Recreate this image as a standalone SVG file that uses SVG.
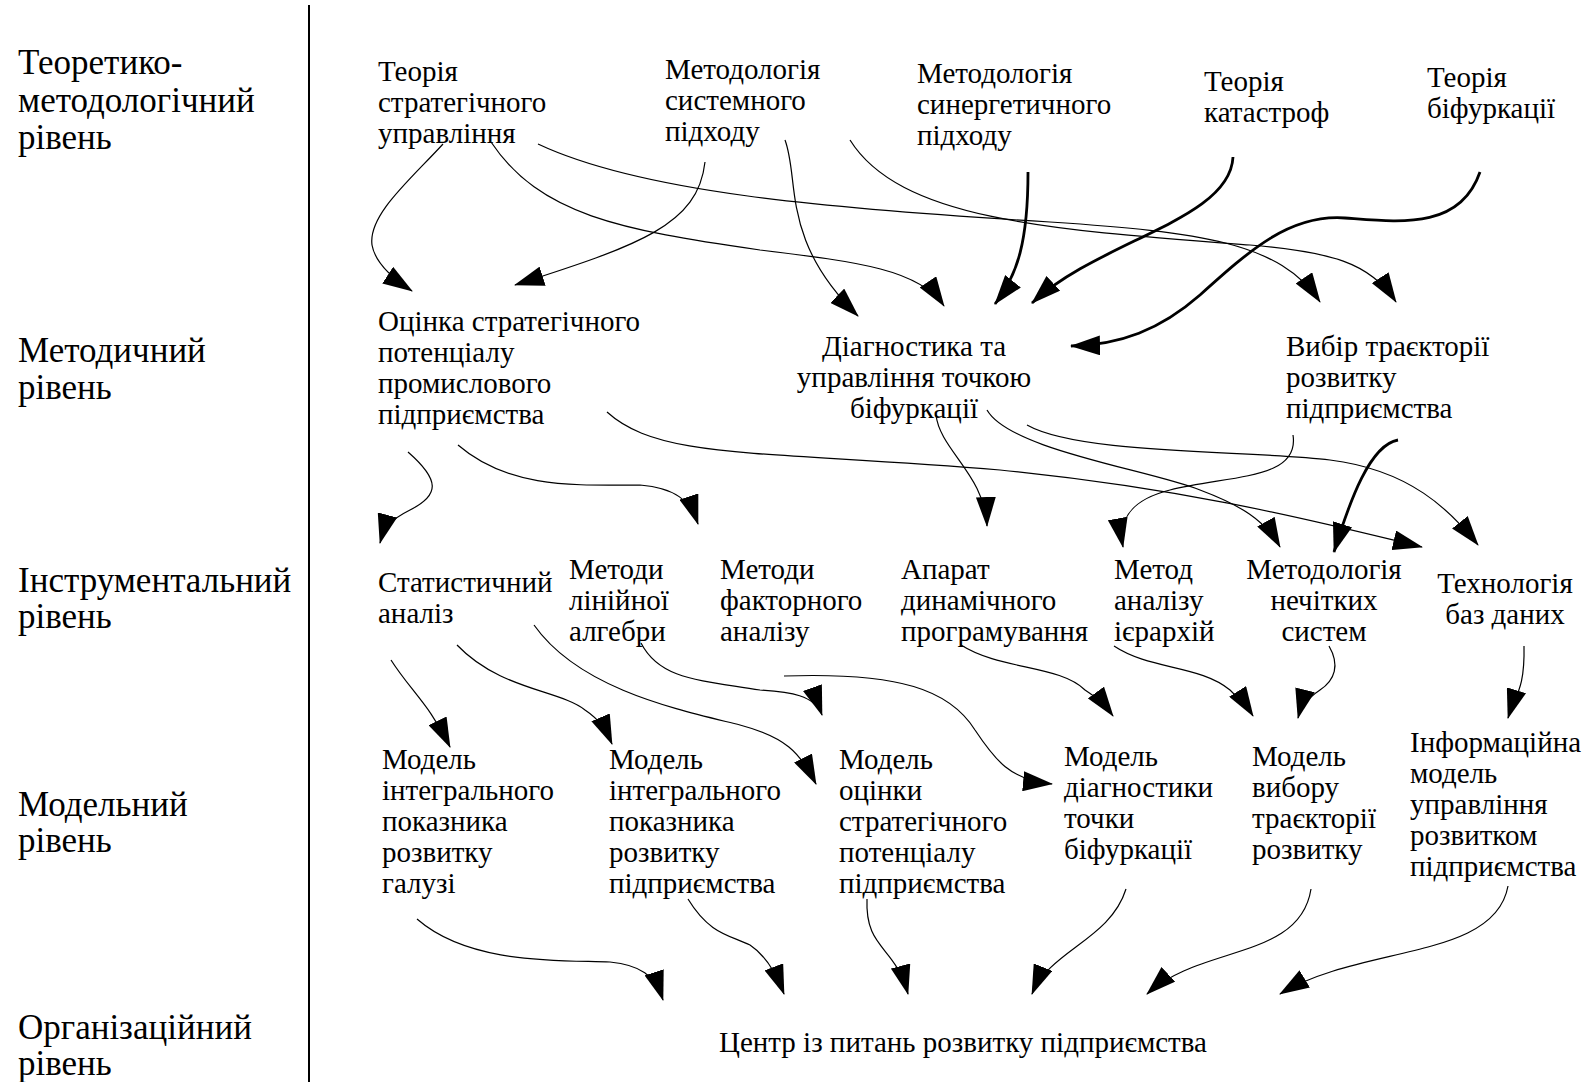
<svg xmlns="http://www.w3.org/2000/svg" width="1587" height="1082" viewBox="0 0 1587 1082">
<style>
text{font-family:"Liberation Serif","Times New Roman",serif;fill:#000}
.lvl{font-size:35px}
.n{font-size:29px}
.c{text-anchor:middle}
.e{fill:none;stroke:#000;stroke-width:1.2}
.t{fill:none;stroke:#000;stroke-width:2.8}
</style>
<defs>
<marker id="ah" viewBox="0 0 30 20" refX="29" refY="10" markerWidth="30" markerHeight="20" orient="auto" markerUnits="userSpaceOnUse"><path d="M0,0 L30,10 L0,20 z" fill="#000"/></marker>
</defs>
<rect width="1587" height="1082" fill="#fff"/>
<line x1="309" y1="5" x2="309" y2="1082" stroke="#000" stroke-width="2"/>
<g id="levels">
<text class="lvl" x="18" y="74">Теоретико-<tspan x="18" y="112">методологічний</tspan><tspan x="18" y="149">рівень</tspan></text>
<text class="lvl" x="18" y="362">Методичний<tspan x="18" y="399">рівень</tspan></text>
<text class="lvl" x="18" y="592">Інструментальний<tspan x="18" y="628">рівень</tspan></text>
<text class="lvl" x="18" y="816">Модельний<tspan x="18" y="852">рівень</tspan></text>
<text class="lvl" x="18" y="1039">Організаційний<tspan x="18" y="1075">рівень</tspan></text>
</g>
<g id="n_tsu"><text class="n" x="378" y="81">Теорія<tspan x="378" y="112">стратегічного</tspan><tspan x="378" y="143">управління</tspan></text></g>
<g id="n_msp"><text class="n" x="665" y="79">Методологія<tspan x="665" y="110">системного</tspan><tspan x="665" y="141">підходу</tspan></text></g>
<g id="n_msyn"><text class="n" x="917" y="83">Методологія<tspan x="917" y="114">синергетичного</tspan><tspan x="917" y="145">підходу</tspan></text></g>
<g id="n_tk"><text class="n" x="1204" y="91">Теорія<tspan x="1204" y="122">катастроф</tspan></text></g>
<g id="n_tb"><text class="n" x="1427" y="87">Теорія<tspan x="1427" y="118">біфуркації</tspan></text></g>
<g id="n_osp"><text class="n" x="378" y="331">Оцінка стратегічного<tspan x="378" y="362">потенціалу</tspan><tspan x="378" y="393">промислового</tspan><tspan x="378" y="424">підприємства</tspan></text></g>
<g id="n_diag"><text class="n c" x="914" y="356">Діагностика та<tspan x="914" y="387">управління точкою</tspan><tspan x="914" y="418">біфуркації</tspan></text></g>
<g id="n_vybir"><text class="n" x="1286" y="356">Вибір траєкторії<tspan x="1286" y="387">розвитку</tspan><tspan x="1286" y="418">підприємства</tspan></text></g>
<g id="n_stat"><text class="n" x="378" y="592">Статистичний<tspan x="378" y="623">аналіз</tspan></text></g>
<g id="n_lin"><text class="n" x="569" y="579">Методи<tspan x="569" y="610">лінійної</tspan><tspan x="569" y="641">алгебри</tspan></text></g>
<g id="n_fakt"><text class="n" x="720" y="579">Методи<tspan x="720" y="610">факторного</tspan><tspan x="720" y="641">аналізу</tspan></text></g>
<g id="n_dyn"><text class="n" x="901" y="579">Апарат<tspan x="901" y="610">динамічного</tspan><tspan x="901" y="641">програмування</tspan></text></g>
<g id="n_ier"><text class="n" x="1114" y="579">Метод<tspan x="1114" y="610">аналізу</tspan><tspan x="1114" y="641">ієрархій</tspan></text></g>
<g id="n_fuzzy"><text class="n c" x="1324" y="579">Методологія<tspan x="1324" y="610">нечітких</tspan><tspan x="1324" y="641">систем</tspan></text></g>
<g id="n_db"><text class="n c" x="1505" y="593">Технологія<tspan x="1505" y="624">баз даних</tspan></text></g>
<g id="n_m1"><text class="n" x="382" y="769">Модель<tspan x="382" y="800">інтегрального</tspan><tspan x="382" y="831">показника</tspan><tspan x="382" y="862">розвитку</tspan><tspan x="382" y="893">галузі</tspan></text></g>
<g id="n_m2"><text class="n" x="609" y="769">Модель<tspan x="609" y="800">інтегрального</tspan><tspan x="609" y="831">показника</tspan><tspan x="609" y="862">розвитку</tspan><tspan x="609" y="893">підприємства</tspan></text></g>
<g id="n_m3"><text class="n" x="839" y="769">Модель<tspan x="839" y="800">оцінки</tspan><tspan x="839" y="831">стратегічного</tspan><tspan x="839" y="862">потенціалу</tspan><tspan x="839" y="893">підприємства</tspan></text></g>
<g id="n_m4"><text class="n" x="1064" y="766">Модель<tspan x="1064" y="797">діагностики</tspan><tspan x="1064" y="828">точки</tspan><tspan x="1064" y="859">біфуркації</tspan></text></g>
<g id="n_m5"><text class="n" x="1252" y="766">Модель<tspan x="1252" y="797">вибору</tspan><tspan x="1252" y="828">траєкторії</tspan><tspan x="1252" y="859">розвитку</tspan></text></g>
<g id="n_m6"><text class="n" x="1410" y="752">Інформаційна<tspan x="1410" y="783">модель</tspan><tspan x="1410" y="814">управління</tspan><tspan x="1410" y="845">розвитком</tspan><tspan x="1410" y="876">підприємства</tspan></text></g>
<g id="n_center"><text class="n" x="719" y="1052">Центр із питань розвитку підприємства</text></g>
<g id="connectors" marker-end="url(#ah)">
<path class="e" d="M443,144 C410,180 368,215 372,245 C375,262 392,278 412,291"/>
<path class="e" d="M491,142 C540,215 620,230 760,250 C860,262 920,270 944,306"/>
<path class="e" d="M538,144 C640,192 820,208 1050,222 C1200,232 1280,242 1320,302"/>
<path class="e" d="M705,162 C698,225 640,245 515,285"/>
<path class="e" d="M785,140 C800,180 780,240 858,316"/>
<path class="e" d="M850,140 C900,220 1050,230 1250,245 C1330,252 1370,262 1396,302"/>
<path class="t" d="M1028,172 C1028,240 1018,275 995,304"/>
<path class="t" d="M1233,157 C1230,220 1100,240 1032,303"/>
<path class="t" d="M1480,172 C1460,230 1400,222 1345,218 C1290,214 1250,250 1200,295 C1160,330 1120,345 1071,346"/>
<path class="e" d="M408,452 C440,480 440,495 410,510 C390,520 384,528 380,543"/>
<path class="e" d="M458,445 C510,490 580,485 640,485 C675,488 690,500 698,524"/>
<path class="e" d="M607,412 C660,460 760,450 1000,470 C1200,490 1330,525 1422,547"/>
<path class="e" d="M936,415 C940,450 985,475 987,526"/>
<path class="e" d="M987,410 C1010,450 1150,470 1200,490 C1240,505 1265,520 1280,547"/>
<path class="e" d="M1027,425 C1080,455 1250,450 1330,460 C1410,470 1450,510 1478,545"/>
<path class="e" d="M1293,435 C1300,480 1230,475 1170,490 C1130,500 1118,520 1123,547"/>
<path class="t" d="M1398,440 C1370,445 1350,500 1334,552"/>
<path class="e" d="M391,660 C410,690 430,705 450,747"/>
<path class="e" d="M457,645 C500,690 560,690 585,710 C600,720 606,730 612,744"/>
<path class="e" d="M534,625 C580,690 680,710 740,725 C785,737 800,752 816,784"/>
<path class="e" d="M641,643 C660,680 700,680 760,690 C790,692 815,695 822,715"/>
<path class="e" d="M784,676 C900,672 950,690 975,730 C995,760 1010,780 1052,784"/>
<path class="e" d="M961,645 C1000,670 1060,665 1085,690 C1100,700 1105,705 1113,716"/>
<path class="e" d="M1114,646 C1150,670 1200,665 1230,690 C1240,700 1248,708 1253,716"/>
<path class="e" d="M1329,646 C1340,665 1335,680 1320,690 C1305,700 1300,710 1298,718"/>
<path class="e" d="M1524,646 C1525,690 1515,695 1508,718"/>
<path class="e" d="M417,919 C470,965 560,960 610,962 C640,965 655,975 663,1000"/>
<path class="e" d="M688,899 C710,935 730,935 750,945 C765,955 775,970 784,994"/>
<path class="e" d="M867,899 C865,950 895,945 908,994"/>
<path class="e" d="M1126,889 C1110,940 1050,950 1032,994"/>
<path class="e" d="M1311,889 C1300,960 1200,945 1147,994"/>
<path class="e" d="M1508,886 C1495,960 1360,945 1280,994"/>
</g>
</svg>
